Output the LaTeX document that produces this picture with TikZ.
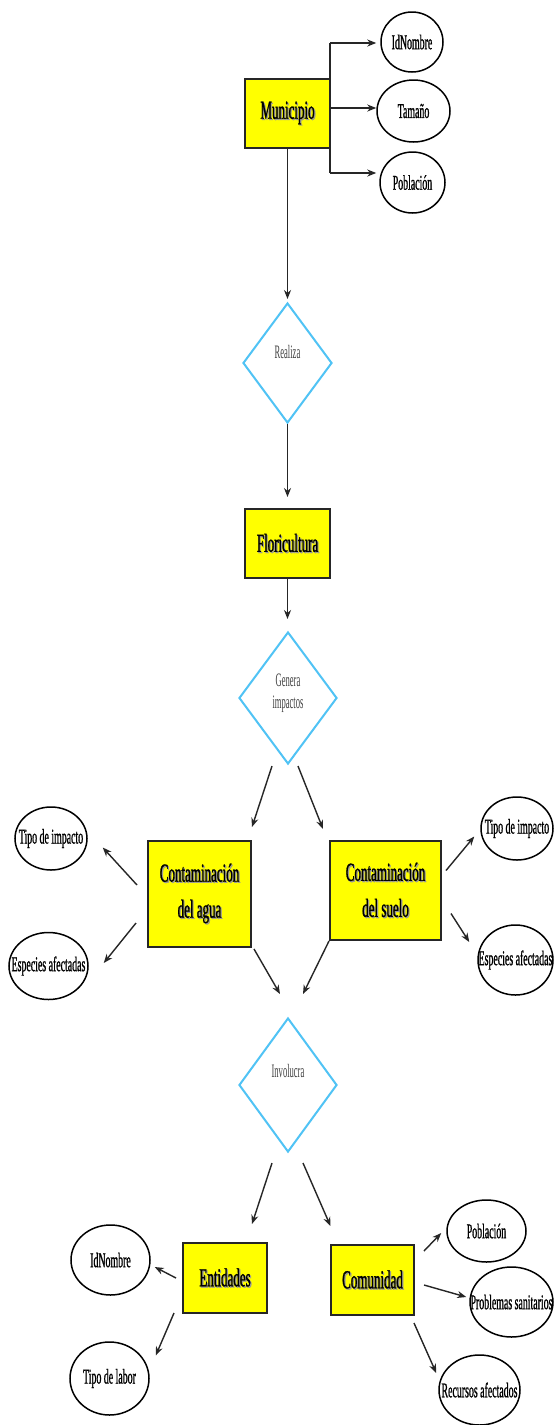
\documentclass[tikz,border=0pt]{standalone}
\usepackage{fontspec}
\usetikzlibrary{shapes.geometric,arrows.meta,calc}
\newfontfamily\condfont[FakeStretch=0.5,FakeBold=1]{Liberation Serif}
\newfontfamily\ellfont[FakeStretch=0.47,FakeBold=0.8]{Liberation Serif}
\newfontfamily\diafont[FakeStretch=0.45]{Liberation Serif}
\definecolor{boxyellow}{RGB}{255,255,0}
\definecolor{diablue}{RGB}{80,195,245}
\newcommand\shd[1]{\leavevmode\rlap{\kern1.2pt\raisebox{-1.2pt}{\textcolor{black!40}{#1}}}#1}
\newcommand\zw[1]{\makebox[0pt]{#1}}
\begin{document}
\begin{tikzpicture}[x=1pt,y=-1pt,
 entity/.style={draw=black!85,line width=2pt,fill=boxyellow,minimum width=85pt,minimum height=69pt,inner sep=0pt,font=\condfont\fontsize{26}{36}\selectfont,align=center},
 attr/.style={draw=black,line width=1.5pt,ellipse,fill=white,inner sep=0pt,font=\ellfont\fontsize{21}{24}\selectfont},
 rel/.style={draw=diablue,line width=2pt,diamond,inner sep=0pt},
 rellabel/.style={font=\diafont\fontsize{19}{22}\selectfont,text=black!75,align=center,inner sep=0pt},
 arr/.style={draw=black!85,line width=1.4pt,-{Stealth[length=9pt,width=7pt]}},
 link/.style={draw=black!85,line width=2pt},
]
\useasboundingbox (0,0) rectangle (554,1425);
\fill[white] (0,0) rectangle (554,1425);

% entities
\node[entity] (mun) at (287.5,113.5) {\shd{Municipio}};
\node[entity] (flor) at (287.5,543.5) {\shd{Floricultura}};
\node[entity,minimum width=103pt,minimum height=106pt] (agua) at (199.5,894) {\shd{Contaminación}\\\shd{del agua}};
\node[entity,minimum width=111pt,minimum height=99pt] (suelo) at (385.5,890.5) {\shd{Contaminación}\\\shd{del suelo}};
\node[entity,minimum width=84pt,minimum height=70pt] (ent) at (225,1278) {\shd{Entidades}};
\node[entity,minimum width=83pt,minimum height=70pt] (com) at (372.5,1280) {\shd{Comunidad}};

% relationships
\node[rel,minimum width=89pt,minimum height=120pt] (realiza) at (287.5,363) {};
\node[rellabel] (realizat) at (287.5,352) {Realiza};
\node[rel,minimum width=98pt,minimum height=132pt] (genera) at (288,698) {};
\node[rellabel] (generat) at (288,693) {Genera\\impactos};
\node[rel,minimum width=98pt,minimum height=134pt] (inv) at (288,1085) {};
\node[rellabel] (invt) at (288,1071) {Involucra};

% attributes
\node[attr,minimum width=62pt,minimum height=60pt] (idn) at (412,42) {\zw{IdNombre}};
\node[attr,minimum width=73pt,minimum height=62pt] (tam) at (413.5,111) {\zw{Tamaño}};
\node[attr,minimum width=65pt,minimum height=61pt] (pobM) at (412.5,182.5) {\zw{Población}};
\node[attr,minimum width=72pt,minimum height=63pt] (tipoL) at (51,838.5) {\zw{Tipo de impacto}};
\node[attr,minimum width=79pt,minimum height=67pt] (espL) at (48.5,966) {\zw{Especies afectadas}};
\node[attr,minimum width=72pt,minimum height=63pt] (tipoR) at (517,828.5) {\zw{Tipo de impacto}};
\node[attr,minimum width=75pt,minimum height=70pt] (espR) at (515.5,960) {\zw{Especies afectadas}};
\node[attr,minimum width=79pt,minimum height=70pt] (idn2) at (110.5,1260) {\zw{IdNombre}};
\node[attr,minimum width=79pt,minimum height=73pt] (labor) at (109.5,1378.5) {\zw{Tipo de labor}};
\node[attr,minimum width=79pt,minimum height=62pt] (pob2) at (486.5,1231) {\zw{Población}};
\node[attr,minimum width=83pt,minimum height=70pt] (prob) at (511.5,1302) {\zw{Problemas sanitarios}};
\node[attr,minimum width=81pt,minimum height=70pt] (rec) at (479.5,1390) {\zw{Recursos afectados}};

% Municipio attributes
\coordinate (jt) at (330,43);
\coordinate (jm) at (330,108);
\coordinate (jb) at (330,173);
\draw[link] (jt) -- (jb);
\draw[arr,line width=2pt,shorten >=4pt] (jt) -- (idn.west |- jt);
\draw[arr,line width=2pt] (jm) -- (tam.west |- jm);
\draw[arr,line width=2pt,shorten >=3pt] (jb) -- (pobM.west |- jb);

% main chain
\draw[arr,shorten >=3pt] (mun.south) -- (realiza.north);
\draw[arr,shorten >=11pt] (realiza.south) -- (flor.north);
\draw[arr,shorten >=12pt] (flor.south) -- (flor.south |- genera.north);
\draw[arr] ([shift={(-16,1)}]genera.south) -- ([shift={(52.5,-13)}]agua.north);
\draw[arr] ([shift={(10,1)}]genera.south) -- ([shift={(-62.5,-11)}]suelo.north);

% contamination attributes
\draw[arr] ([shift={(-10,-9)}]agua.west) -- ([shift={(15,9)}]tipoL.east);
\draw[arr] ([shift={(-11,29)}]agua.west) -- ([shift={(15,-3)}]espL.east);
\draw[arr] ([shift={(4,-20)}]suelo.east) -- ([shift={(-6,8)}]tipoR.west);
\draw[arr] ([shift={(9,23)}]suelo.east) -- ([shift={(-8,-18)}]espR.west);

% to Involucra
\draw[arr] ([shift={(2,1)}]agua.south east) -- ([shift={(-8,-23)}]inv.north);
\draw[arr] (suelo.south west) -- ([shift={(15,-23)}]inv.north);
\draw[arr] ([shift={(-16,10)}]inv.south) -- ([shift={(27,-18)}]ent.north);
\draw[arr] ([shift={(15,10)}]inv.south) -- ([shift={(-42,-18)}]com.north);

% Entidades / Comunidad attributes
\draw[arr] ([shift={(-6,0)}]ent.west) -- ([shift={(4,7)}]idn2.east);
\draw[arr] ([shift={(-8,-1)}]ent.south west) -- ([shift={(6,-23)}]labor.east);
\draw[arr] ([shift={(9,-29)}]com.east) -- ([shift={(-5,2)}]pob2.west);
\draw[arr] ([shift={(9,5)}]com.east) -- ([shift={(-3,-5)}]prob.west);
\draw[arr] ([shift={(-1,7)}]com.south east) -- ([shift={(-2,-17)}]rec.west);
\end{tikzpicture}
\end{document}
